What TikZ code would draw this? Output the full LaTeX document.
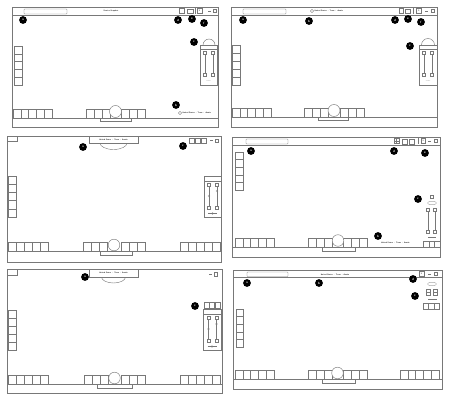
\documentclass[tikz,border=0pt]{standalone}
\usepackage{tikz}
\usetikzlibrary{positioning, calc}
\usepackage{xcolor}
\definecolor{wirecolor}{RGB}{120,120,120}
\definecolor{markcolor}{RGB}{0,0,0}

\begin{document}
\begin{tikzpicture}[
    x=0.5mm, y=-0.5mm,
    frame/.style={draw=wirecolor, line width=0.6pt},
    btn/.style={draw=wirecolor, line width=0.6pt, fill=white},
    thin/.style={draw=wirecolor, line width=0.4pt},
    lbl/.style={circle, fill=markcolor, text=white, inner sep=0pt, minimum size=3.9mm, font=\sffamily\bfseries\fontsize{4.5}{5}\selectfont},
    ttl/.style={inner sep=0pt, text=black, font=\sffamily\bfseries\fontsize{2.7}{3}\selectfont},
    tiny/.style={inner sep=0pt, text=wirecolor, font=\sffamily\fontsize{2}{2}\selectfont}
]
\useasboundingbox (0,0) rectangle (450,400);

% ---------- panel 1 (top left)
\draw[frame] (12,7) rectangle (218,127);
\draw[frame] (12,15) -- (218,15);
\draw[frame] (12,118) -- (218,118);
\draw[thin, rounded corners=0.8] (24,9) rectangle (67,14);
\node[ttl] (title1) at (111,11) {Session Snapshot};
\draw[thin] (179,8.5) rectangle (184,13.5);
\draw[thin] (187,9) rectangle (193,13.5);
\draw[thin] (195,8.5) -- (195,14);
\draw[thin] (197,8.5) rectangle (202,13.5);
\node[ttl] (num1) at (199.5,11) {2};
\draw[thin] (208,11) -- (211,11);
\draw[thin] (213,9.5) rectangle (216,12.5);
\foreach \i in {0,...,4} \draw[btn] (14,{46+\i*7.8}) rectangle ++(8,7.8);
\draw[btn] (203,45) arc[start angle=180, end angle=360, radius=6];
\draw[btn] (200,45) rectangle (217,85);
\draw[thin] (200,49) -- (217,49);
\foreach \u in {203.5,211.5} {
  \draw[thin] (\u,51) rectangle ++(3,3);
  \draw[thin] (\u,73) rectangle ++(3,3);
  \draw[thin] ({\u+1.5},54) -- ({\u+1.5},73);
}
\node[tiny] (cap1) at (208.5,81) {volume};
\foreach \i in {0,...,4} \draw[btn] ({13+\i*7.8},109.5) rectangle ++(7.8,8.5);
\draw[frame] (100,118) -- (100,121) -- (131,121) -- (131,118);
\foreach \i in {0,1,2} \draw[btn] ({86+\i*8},109.5) rectangle ++(8,8.5);
\foreach \i in {0,1,2} \draw[btn] ({121+\i*8},109.5) rectangle ++(8,8.5);
\draw[btn] (115.5,111.5) circle[radius=6];
\draw[thin] (180,113) circle[radius=1.6];
\node[ttl, anchor=west] (loc1) at (182.5,113) {United States $\cdot$ Texas $\cdot$ Austin};
\node[lbl] (a1) at (23,20) {a};
\node[lbl] (b1) at (176,105) {b};
\node[lbl] (c1) at (194,42) {c};
\node[lbl] (d1) at (178,20) {d};
\node[lbl] (e1) at (192,19) {e};
\node[lbl] (f1) at (204,23) {f};

% ---------- panel 2 (top right)
\draw[frame] (231,7) rectangle (437,127);
\draw[frame] (231,15) -- (437,15);
\draw[frame] (231,117) -- (437,117);
\draw[thin, rounded corners=0.8] (243,9) rectangle (286,14);
\draw[thin] (312,11) circle[radius=1.6];
\node[ttl, anchor=west] (loc2) at (314.5,11) {United States $\cdot$ Texas $\cdot$ Austin};
\draw[thin] (399,8.5) rectangle (403.5,13.5);
\draw[thin] (405.5,9) rectangle (410.5,13.5);
\draw[thin] (413,8.5) -- (413,14);
\draw[thin] (416.5,8.5) rectangle (421.5,13.5);
\node[ttl] (num2) at (419,11) {2};
\draw[thin] (425,11) -- (428,11);
\draw[thin] (431,9.5) rectangle (434,12.5);
\foreach \i in {0,...,4} \draw[btn] (232,{45+\i*8}) rectangle ++(8,8);
\draw[btn] (421.5,45) arc[start angle=180, end angle=360, radius=6.5];
\draw[btn] (419,45) rectangle (437,85);
\draw[thin] (419,49) -- (437,49);
\foreach \u in {422.5,430.5} {
  \draw[thin] (\u,51) rectangle ++(3,3);
  \draw[thin] (\u,73) rectangle ++(3,3);
  \draw[thin] ({\u+1.5},54) -- ({\u+1.5},73);
}
\node[tiny] (cap2) at (428,81) {volume};
\foreach \i in {0,...,4} \draw[btn] ({232+\i*7.8},108.5) rectangle ++(7.8,8.5);
\draw[frame] (318,117) -- (318,120) -- (348,120) -- (348,117);
\foreach \i in {0,1,2} \draw[btn] ({304+\i*8},108.5) rectangle ++(8,8.5);
\foreach \i in {0,1,2} \draw[btn] ({340+\i*8},108.5) rectangle ++(8,8.5);
\draw[btn] (334,110.5) circle[radius=6];
\node[lbl] (a2) at (243,20) {a};
\node[lbl] (b2) at (309,21) {b};
\node[lbl] (c2) at (410,46) {c};
\node[lbl] (d2) at (395,20) {d};
\node[lbl] (e2) at (408,19) {e};
\node[lbl] (f2) at (421,22) {f};

% ---------- panel 3 (middle left)
\draw[frame] (7,136) rectangle (221,262);
\draw[frame] (7,251) -- (221,251);
\draw[thin] (7,136) rectangle (17,141);
\draw[btn] (100,143) arc[start angle=180, end angle=0, x radius=13.5, y radius=6.5];
\draw[btn] (89,136) rectangle (138,143);
\node[ttl] (loc3) at (113.5,139.5) {United States $\cdot$ Texas $\cdot$ Austin};
\foreach \i in {0,1,2} \draw[thin] ({189+\i*6.3},138) rectangle ++(5,5);
\draw[thin] (210,140.5) -- (213,140.5);
\draw[thin] (215,139) rectangle (218,142);
\foreach \i in {0,...,4} \draw[btn] (8,{176+\i*8.2}) rectangle ++(8,8.2);
\draw[btn] (204,176) rectangle (221,217);
\draw[thin] (204,181) -- (221,181);
\foreach \u/\k in {207.5/196,215.5/191} {
  \draw[thin] (\u,183) rectangle ++(3,3);
  \draw[thin] (\u,206) rectangle ++(3,3);
  \draw[thin] ({\u+1.5},186) -- ({\u+1.5},206);
  \draw[thin] ({\u+1.5},\k) circle[radius=1];
}
\draw[thin] (208,213.5) -- (217,213.5);
\draw[thin] (212.5,213.5) circle[radius=0.9];
\foreach \i in {0,...,4} \draw[btn] ({8+\i*8},242) rectangle ++(8,9);
\draw[frame] (100,251) -- (100,255) -- (132,255) -- (132,251);
\foreach \i in {0,1,2} \draw[btn] ({83+\i*8},242) rectangle ++(8,9);
\foreach \i in {0,1,2} \draw[btn] ({121+\i*8},242) rectangle ++(8,9);
\draw[btn] (114,245) circle[radius=5.8];
\foreach \i in {0,...,4} \draw[btn] ({180+\i*8},242) rectangle ++(8,9);
\node[lbl] (a3) at (83,147) {a};
\node[lbl] (c3) at (183,146) {c};

% ---------- panel 4 (middle right)
\draw[frame] (232,137) rectangle (440,257);
\draw[frame] (232,145) -- (440,145);
\draw[frame] (232,247) -- (440,247);
\draw[thin, rounded corners=0.8] (246,139) rectangle (288,144);
\draw[thin] (394,138.5) rectangle (399,143.5);
\draw[thin] (396.5,138.5) -- (396.5,143.5) (394,141) -- (399,141);
\draw[thin] (402,139) rectangle (407,144);
\draw[thin] (409,139) rectangle (414,144);
\draw[thin] (418,138.5) -- (418,144);
\draw[thin] (421,138.5) rectangle (425.5,143.5);
\node[ttl] (num4) at (423.2,141) {2};
\draw[thin] (428,141) -- (431,141);
\draw[thin] (434,139.5) rectangle (437,142.5);
\foreach \i in {0,...,4} \draw[btn] (235,{152+\i*7.6}) rectangle ++(8,7.6);
\draw[thin] (430.5,195.5) rectangle ++(3,3);
\draw[thin] (432,203) ellipse[x radius=4.5, y radius=1.8];
\foreach \u in {426.5,433.5} {
  \draw[thin] (\u,208.5) rectangle ++(3,3);
  \draw[thin] (\u,230.5) rectangle ++(3,3);
  \draw[thin] ({\u+1.5},211.5) -- ({\u+1.5},230.5);
}
\draw[thin] (428,237.5) -- (436,237.5);
\foreach \i in {0,1,2} \draw[btn] ({423.5+\i*5.5},241) rectangle ++(5.5,6);
\node[ttl, anchor=west] (loc4) at (381,243) {United States $\cdot$ Texas $\cdot$ Austin};
\foreach \i in {0,...,4} \draw[btn] ({235+\i*7.8},238.5) rectangle ++(7.8,8.5);
\draw[frame] (322,247) -- (322,251) -- (355,251) -- (355,247);
\foreach \i in {0,1,2} \draw[btn] ({308+\i*8},238.5) rectangle ++(8,8.5);
\foreach \i in {0,1,2} \draw[btn] ({343+\i*8},238.5) rectangle ++(8,8.5);
\draw[btn] (338,240.5) circle[radius=5.8];
\node[lbl] (a4) at (251,151) {a};
\node[lbl] (b4) at (378,236) {b};
\node[lbl] (c4) at (418,199) {c};
\node[lbl] (d4) at (394,151) {d};
\node[lbl] (e4) at (425,153) {e};

% ---------- panel 5 (bottom left)
\draw[frame] (7,269) rectangle (222,393);
\draw[frame] (7,384) -- (222,384);
\draw[thin] (7,269) rectangle (17,275);
\draw[btn] (101.5,277) arc[start angle=180, end angle=0, x radius=12, y radius=6];
\draw[btn] (89,269) rectangle (138,277);
\node[ttl] (loc5) at (113.5,273) {United States $\cdot$ Texas $\cdot$ Austin};
\draw[thin] (209,274) -- (212,274);
\draw[thin] (214,272.5) rectangle (217.5,276);
\foreach \i in {0,1,2} \draw[thin] ({204+\i*5.5},302.5) rectangle ++(5,5.5);
\foreach \i in {0,...,4} \draw[btn] (8,{310+\i*8}) rectangle ++(8,8);
\draw[btn] (203,309) rectangle (221,350);
\draw[thin] (203,314) -- (221,314);
\foreach \u/\k in {207/329,215/324} {
  \draw[thin] (\u,316) rectangle ++(3,3);
  \draw[thin] (\u,339) rectangle ++(3,3);
  \draw[thin] ({\u+1.5},319) -- ({\u+1.5},339);
  \draw[thin] ({\u+1.5},\k) circle[radius=1];
}
\draw[thin] (207.5,346.5) -- (216.5,346.5);
\draw[thin] (212,346.5) circle[radius=0.9];
\foreach \i in {0,...,4} \draw[btn] ({8+\i*8},375) rectangle ++(8,9);
\draw[frame] (97,384) -- (97,388) -- (132,388) -- (132,384);
\foreach \i in {0,1,2} \draw[btn] ({84+\i*8},375) rectangle ++(8,9);
\foreach \i in {0,1,2} \draw[btn] ({121+\i*8},375) rectangle ++(8,9);
\draw[btn] (114.5,378) circle[radius=5.8];
\foreach \i in {0,...,4} \draw[btn] ({180+\i*8},375) rectangle ++(8,9);
\node[lbl] (a5) at (85,277) {a};
\node[lbl] (c5) at (195,306) {c};

% ---------- panel 6 (bottom right)
\draw[frame] (233,270) rectangle (442,389);
\draw[frame] (233,277) -- (442,277);
\draw[frame] (233,379) -- (442,379);
\draw[thin, rounded corners=0.8] (247,272) rectangle (288,276.5);
\node[ttl] (loc6) at (335,274.5) {United States $\cdot$ Texas $\cdot$ Austin};
\draw[thin] (419,271.5) rectangle (424,276);
\node[ttl] (num6) at (421.5,273.8) {2};
\draw[thin] (428,274) -- (431,274);
\draw[thin] (434,272.5) rectangle (437.5,275.5);
\draw[thin] (432,284) ellipse[x radius=4.5, y radius=1.8];
\foreach \u in {426.5,433.5} {
  \draw[thin] (\u,289.5) rectangle ++(3.5,6);
  \draw[thin] (\u,292.5) -- ++(3.5,0);
}
\draw[thin] (428,299) -- (437,299);
\foreach \i in {0,1,2} \draw[btn] ({423+\i*5.4},303.5) rectangle ++(5.4,5.5);
\foreach \i in {0,...,4} \draw[btn] (236,{309+\i*7.6}) rectangle ++(7.5,7.6);
\foreach \i in {0,...,4} \draw[btn] ({235+\i*7.8},370.5) rectangle ++(7.8,8.5);
\draw[frame] (322,379) -- (322,383) -- (355,383) -- (355,379);
\foreach \i in {0,1,2} \draw[btn] ({308+\i*8},370.5) rectangle ++(8,8.5);
\foreach \i in {0,1,2} \draw[btn] ({343+\i*8},370.5) rectangle ++(8,8.5);
\draw[btn] (337.5,373) circle[radius=5.8];
\foreach \i in {0,...,4} \draw[btn] ({400+\i*7.8},370.5) rectangle ++(7.8,8.5);
\node[lbl] (a6) at (247,283) {a};
\node[lbl] (b6) at (319,283) {b};
\node[lbl] (c6) at (415,296) {c};
\node[lbl] (d6) at (413,279) {d};
\end{tikzpicture}
\end{document}
